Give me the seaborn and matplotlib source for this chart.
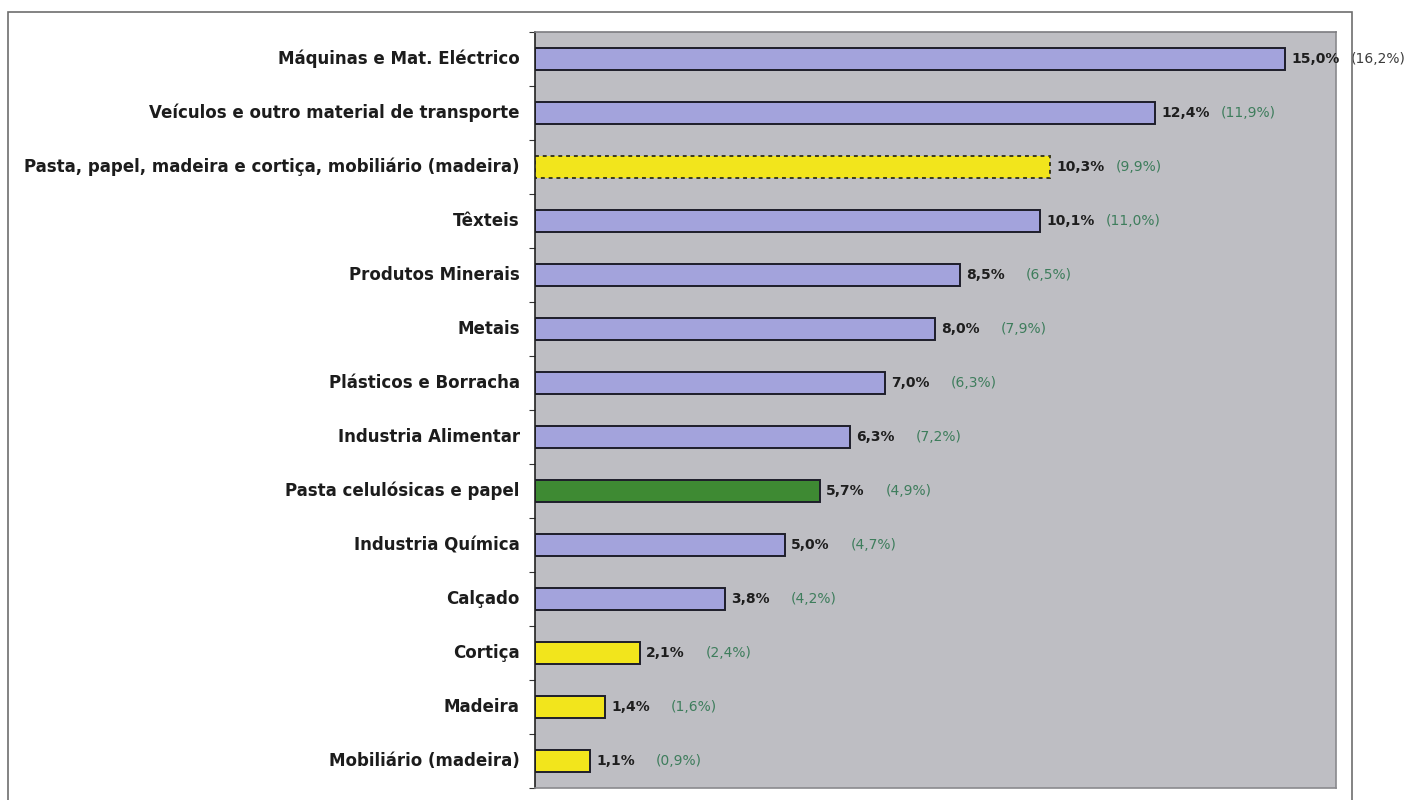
import matplotlib
matplotlib.use("Agg")
import matplotlib.pyplot as plt
from matplotlib.patches import Rectangle
from matplotlib.ticker import FixedLocator, NullLocator
import seaborn as sns
import pandas as pd

# Sector shares of industrial exports (current year, previous year in brackets)
sectors = [
    "Máquinas e Mat. Eléctrico",
    "Veículos e outro material de transporte",
    "Pasta, papel, madeira e cortiça, mobiliário (madeira)",
    "Têxteis",
    "Produtos Minerais",
    "Metais",
    "Plásticos e Borracha",
    "Industria Alimentar",
    "Pasta celulósicas e papel",
    "Industria Química",
    "Calçado",
    "Cortiça",
    "Madeira",
    "Mobiliário (madeira)",
]
share_current = [15.0, 12.4, 10.3, 10.1, 8.5, 8.0, 7.0, 6.3, 5.7, 5.0, 3.8, 2.1, 1.4, 1.1]
share_previous = [16.2, 11.9, 9.9, 11.0, 6.5, 7.9, 6.3, 7.2, 4.9, 4.7, 4.2, 2.4, 1.6, 0.9]
groups = ["outros", "outros", "fileira_total", "outros", "outros", "outros", "outros",
          "outros", "pasta", "outros", "outros", "fileira", "fileira", "fileira"]

group_colors = {
    "outros": "#A3A3DC",
    "fileira": "#F2E51C",
    "fileira_total": "#F2E51C",
    "pasta": "#3E8A33",
}

df = pd.DataFrame({"sector": sectors, "share": share_current, "group": groups})

sns.set_style("white")
plt.rcParams["font.family"] = ["DejaVu Sans"]

fig = plt.figure(figsize=(14.24, 8.0), dpi=100, facecolor="white")
ax = fig.add_axes([535 / 1424, 1 - 788 / 800, (1336 - 535) / 1424, (788 - 32) / 800])

palette = {s: group_colors[g] for s, g in zip(sectors, groups)}
sns.barplot(data=df, x="share", y="sector", hue="sector", palette=palette,
            order=sectors, hue_order=sectors, orient="h", width=0.4,
            legend=False, saturation=1, ax=ax)

# Bar outlines: dotted for the aggregate forest-sector bar
for p in ax.patches:
    idx = int(round(p.get_y() + p.get_height() / 2))
    p.set_edgecolor("#1E1E2A")
    p.set_linewidth(1.4)
    if groups[idx] == "fileira_total":
        p.set_linestyle((0, (2, 2)))
        p.set_edgecolor("#3A3A20")

ax.set_facecolor("#BEBEC3")
ax.set_xlim(0, 16.02)
ax.set_ylim(len(sectors) - 0.5, -0.5)
ax.set_xlabel("")
ax.set_ylabel("")
ax.xaxis.set_major_locator(NullLocator())

ax.yaxis.set_minor_locator(FixedLocator([i - 0.5 for i in range(len(sectors) + 1)]))
ax.tick_params(axis="y", which="major", length=0, pad=11, labelsize=12,
               labelcolor="#1C1C1C")
ax.tick_params(axis="y", which="minor", length=4, width=0.8, color="#333333",
               direction="out", left=True)
for lbl in ax.get_yticklabels():
    lbl.set_fontweight("bold")
    lbl.set_verticalalignment("center")

for side, col in [("left", "#222222"), ("top", "#7C7C80"),
                  ("right", "#8A8A8E"), ("bottom", "#8A8A8E")]:
    ax.spines[side].set_visible(True)
    ax.spines[side].set_color(col)
    ax.spines[side].set_linewidth(1.2)

# Value labels: current share, then previous year's share in brackets
xmax = ax.get_xlim()[1]
for i, (cur, prev) in enumerate(zip(share_current, share_previous)):
    cur_txt = f"{cur:.1f}%".replace(".", ",")
    prev_txt = f"({prev:.1f}%)".replace(".", ",")
    ax.annotate(cur_txt, xy=(cur, i), xytext=(4.5, 0), textcoords="offset points",
                ha="left", va="center", fontsize=10, fontweight="bold",
                color="#1E1E1E", annotation_clip=False)
    prev_color = "#3C3C3C" if cur > 0.9 * xmax else "#3E7D5C"
    ax.annotate(prev_txt, xy=(cur, i), xytext=(47, 0), textcoords="offset points",
                ha="left", va="center", fontsize=10, color=prev_color,
                annotation_clip=False)

# Outer chart frame
frame = Rectangle((8 / 1424, -0.05), (1352 - 8) / 1424, 1.05 - 12 / 800,
                  transform=fig.transFigure, fill=False, edgecolor="#6E6E6E",
                  linewidth=1.2, zorder=0)
fig.patches.append(frame)

fig.savefig("out.png", dpi=100, facecolor="white")
